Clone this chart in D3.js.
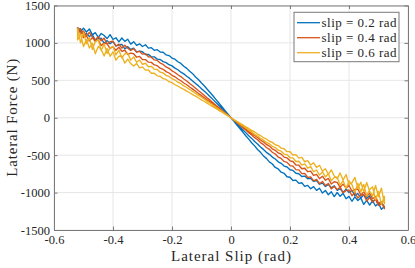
<!DOCTYPE html>
<html><head><meta charset="utf-8">
<script src="https://cdn.jsdelivr.net/npm/d3@7/dist/d3.min.js"></script>
<style>
body{margin:0;background:#fff}
svg{display:block}
text{font-family:"Liberation Serif","Times New Roman",serif;fill:#262626}
</style>
</head><body>
<svg id="c" width="415" height="268"></svg>
<script>
// ---- data ----
const slipGrid = [-0.52,-0.51,-0.50,-0.49,-0.48,-0.47,-0.46,-0.45,-0.44,-0.43,-0.42,-0.41,-0.40,-0.39,-0.38,-0.37,-0.36,-0.35,-0.34,-0.33,-0.32,-0.31,-0.30,-0.29,-0.28,-0.27,-0.26,-0.25,-0.24,-0.23,-0.22,-0.21,-0.20,-0.19,-0.18,-0.17,-0.16,-0.15,-0.14,-0.13,-0.12,-0.11,-0.10,-0.09,-0.08,-0.07,-0.06,-0.05,-0.04,-0.03,-0.02,-0.01,0,0.01,0.02,0.03,0.04,0.05,0.06,0.07,0.08,0.09,0.10,0.11,0.12,0.13,0.14,0.15,0.16,0.17,0.18,0.19,0.20,0.21,0.22,0.23,0.24,0.25,0.26,0.27,0.28,0.29,0.30,0.31,0.32,0.33,0.34,0.35,0.36,0.37,0.38,0.39,0.40,0.41,0.42,0.43,0.44,0.45,0.46,0.47,0.48,0.49,0.50,0.51,0.52];

// slip = 0.2 rad : outgoing branch (left -> right) and return branch (right -> left), both listed by slip
const blueOut = [1205,1146,1198,1146,1187,1108,1137,1074,1126,1099,1058,1111,1046,1069,1015,1066,1021,1049,984,1017,967,988,952,975,930,937,901,910,878,875,840,831,797,782,748,726,688,660,621,589,545,508,464,424,377,334,287,239,193,144,95,48,0,-47,-97,-144,-191,-241,-285,-334,-376,-424,-462,-510,-543,-590,-618,-664,-684,-728,-742,-788,-795,-838,-833,-876,-869,-918,-903,-949,-920,-970,-942,-1006,-971,-1029,-989,-1054,-999,-1050,-1010,-1082,-1051,-1116,-1058,-1106,-1071,-1158,-1105,-1168,-1109,-1179,-1143,-1224,-1185];
const blueRet = [1180,1190,1095,1127,1085,1111,1036,1058,1062,995,1031,989,1018,957,973,981,920,950,913,930,879,890,882,845,847,814,813,783,778,750,737,709,693,663,641,609,586,554,526,491,459,426,389,353,317,277,239,201,160,119,80,40,0,-40,-79,-121,-160,-199,-240,-276,-317,-352,-392,-423,-462,-489,-526,-551,-589,-609,-645,-658,-695,-704,-742,-748,-785,-780,-815,-809,-851,-839,-888,-874,-919,-890,-935,-909,-970,-949,-998,-954,-1000,-969,-1041,-1013,-1072,-1030,-1079,-1043,-1125,-1090,-1168,-1130,-1190];

// slip = 0.4 rad
const orangeOut = [1210,1123,1160,1092,1141,1078,1040,1085,1029,1064,983,1016,1023,959,984,930,970,930,899,924,876,888,850,856,815,810,773,766,730,713,679,660,627,605,574,550,518,491,457,427,394,361,331,297,263,232,198,165,133,98,66,33,0,-34,-65,-99,-133,-164,-199,-230,-266,-295,-332,-359,-397,-422,-461,-485,-525,-543,-584,-596,-639,-646,-693,-696,-747,-745,-798,-791,-843,-824,-882,-851,-906,-878,-951,-915,-960,-928,-1000,-974,-965,-1043,-999,-1074,-1032,-1030,-1113,-1065,-1126,-1082,-1172,-1150,-1190];
const orangeRet = [1185,1185,1070,1093,1025,1070,1019,1040,964,997,988,926,950,901,942,886,902,846,863,855,809,819,779,777,743,740,706,696,662,647,616,598,567,547,518,494,464,441,410,383,353,323,296,266,236,208,180,149,120,91,60,30,0,-30,-59,-91,-120,-149,-180,-207,-238,-264,-297,-322,-356,-379,-415,-435,-470,-486,-526,-537,-576,-585,-631,-634,-681,-675,-721,-713,-771,-757,-814,-781,-835,-811,-885,-855,-864,-930,-887,-941,-905,-982,-958,-952,-1032,-992,-1052,-1007,-1083,-1051,-1140,-1125,-1215];

// slip = 0.6 rad
const yellowOut = [1200,1000,1140,988,1072,913,1014,1045,896,987,858,934,954,839,904,799,853,862,770,813,741,771,715,728,682,687,649,645,609,598,566,552,522,504,475,455,426,404,377,353,326,299,274,247,219,194,165,138,109,84,55,28,0,-28,-54,-84,-110,-137,-166,-192,-222,-245,-275,-297,-329,-348,-382,-398,-434,-447,-485,-492,-535,-536,-585,-581,-633,-616,-672,-653,-722,-698,-767,-723,-791,-748,-843,-797,-793,-904,-839,-944,-844,-894,-998,-877,-991,-890,-1044,-958,-922,-1098,-985,-1160,-1050];
const yellowRet = [1040,1120,950,1045,932,996,856,951,911,826,926,821,880,769,823,822,730,783,724,691,726,665,680,636,639,594,596,560,555,522,512,482,469,441,424,398,380,355,334,309,288,264,239,217,192,167,145,120,96,73,47,24,0,-24,-49,-71,-96,-121,-143,-169,-190,-218,-238,-267,-284,-314,-329,-361,-372,-406,-414,-453,-455,-498,-493,-540,-530,-588,-573,-632,-602,-664,-635,-715,-681,-757,-696,-778,-815,-737,-833,-759,-890,-871,-796,-943,-861,-991,-866,-981,-1047,-905,-1055,-940,-1150];

const seriesNames = ["slip = 0.2 rad","slip = 0.4 rad","slip = 0.6 rad"];
const seriesColors = ["#0072BD","#D95319","#EDB120"];
const seriesOut = [blueOut, orangeOut, yellowOut];
const seriesRet = [blueRet, orangeRet, yellowRet];

const xTicks = [-0.6,-0.4,-0.2,0,0.2,0.4,0.6];
const xTickLabels = ["-0.6","-0.4","-0.2","0","0.2","0.4","0.6"];
const yTicks = [-1500,-1000,-500,0,500,1000,1500];
const yTickLabels = ["-1500","-1000","-500","0","500","1000","1500"];
const xTitle = "Lateral Slip (rad)";
const yTitle = "Lateral Force (N)";

// ---- drawing ----
const svg = d3.select("#c");
const L=54, R=408, T=5.5, B=230;
const x = d3.scaleLinear().domain([-0.6,0.6]).range([L,R]);
const y = d3.scaleLinear().domain([-1500,1500]).range([B,T]);
const axisCol = "#7a7a7a";
const FONT = '"Liberation Serif","Times New Roman",serif';

// grid
const grid = svg.append("g");
grid.selectAll("line.gx").data(xTicks).join("line")
  .attr("x1",d=>x(d)).attr("x2",d=>x(d)).attr("y1",T).attr("y2",B)
  .attr("stroke","#e6e6e6").attr("stroke-width",1);
grid.selectAll("line.gy").data(yTicks).join("line")
  .attr("x1",L).attr("x2",R).attr("y1",d=>y(d)).attr("y2",d=>y(d))
  .attr("stroke","#e6e6e6").attr("stroke-width",1);

// data
svg.append("clipPath").attr("id","clip").append("rect")
  .attr("x",L).attr("y",T).attr("width",R-L).attr("height",B-T);
const line = d3.line().x(d=>x(d[0])).y(d=>y(d[1]));
const dataG = svg.append("g").attr("clip-path","url(#clip)");
seriesOut.forEach((out,i)=>{
  const ret = seriesRet[i];
  const pts = slipGrid.map((s,k)=>[s,out[k]]);
  for(let k=slipGrid.length-1;k>=0;k--) pts.push([slipGrid[k],ret[k]]);
  pts.push([slipGrid[0],out[0]]);
  dataG.append("path").attr("d",line(pts)).attr("fill","none")
    .attr("stroke",seriesColors[i]).attr("stroke-width",1.35)
    .attr("stroke-linejoin","round");
});

// axes
function styleAxis(g){
  g.attr("font-family",FONT).attr("font-size",12.5);
  g.selectAll("path.domain").attr("stroke",axisCol).attr("stroke-width",1);
  g.selectAll(".tick line").attr("stroke",axisCol).attr("stroke-width",1);
  g.selectAll(".tick text").attr("fill","#262626")
    .style("font-family",FONT).style("font-size","12.5px");
}
svg.append("g").attr("transform",`translate(0,${B})`)
  .call(d3.axisBottom(x).tickValues(xTicks).tickFormat((d,i)=>xTickLabels[i]).tickSizeInner(-3.5).tickSizeOuter(0).tickPadding(5.5))
  .call(styleAxis);
svg.append("g").attr("transform",`translate(0,${T})`)
  .call(d3.axisTop(x).tickValues(xTicks).tickFormat(()=>"").tickSizeInner(-3.5).tickSizeOuter(0))
  .call(styleAxis);
svg.append("g").attr("transform",`translate(${L},0)`)
  .call(d3.axisLeft(y).tickValues(yTicks).tickFormat((d,i)=>yTickLabels[i]).tickSizeInner(-3.5).tickSizeOuter(0).tickPadding(4))
  .call(styleAxis);
svg.append("g").attr("transform",`translate(${R},0)`)
  .call(d3.axisRight(y).tickValues(yTicks).tickFormat(()=>"").tickSizeInner(-3.5).tickSizeOuter(0))
  .call(styleAxis);

// titles
svg.append("text").attr("x",(L+R)/2).attr("y",260.5).attr("text-anchor","middle")
  .style("font-size","15px").attr("textLength",120).attr("lengthAdjust","spacing").text(xTitle);
svg.append("text").attr("transform",`translate(16.5,${(T+B)/2}) rotate(-90)`).attr("text-anchor","middle")
  .style("font-size","15px").attr("textLength",118).attr("lengthAdjust","spacing").text(yTitle);

// legend
const lg = svg.append("g");
lg.append("rect").attr("x",294).attr("y",12.3).attr("width",105).attr("height",49.4)
  .attr("fill","#fff").attr("stroke",axisCol).attr("stroke-width",1);
seriesNames.forEach((n,i)=>{
  const yy = 22.7 + i*15;
  lg.append("line").attr("x1",297).attr("x2",320).attr("y1",yy).attr("y2",yy)
    .attr("stroke",seriesColors[i]).attr("stroke-width",1.3);
  lg.append("text").attr("x",321.5).attr("y",yy+4.3).style("font-size","13px")
    .attr("textLength",75).attr("lengthAdjust","spacing").text(n);
});
</script>
</body></html>
